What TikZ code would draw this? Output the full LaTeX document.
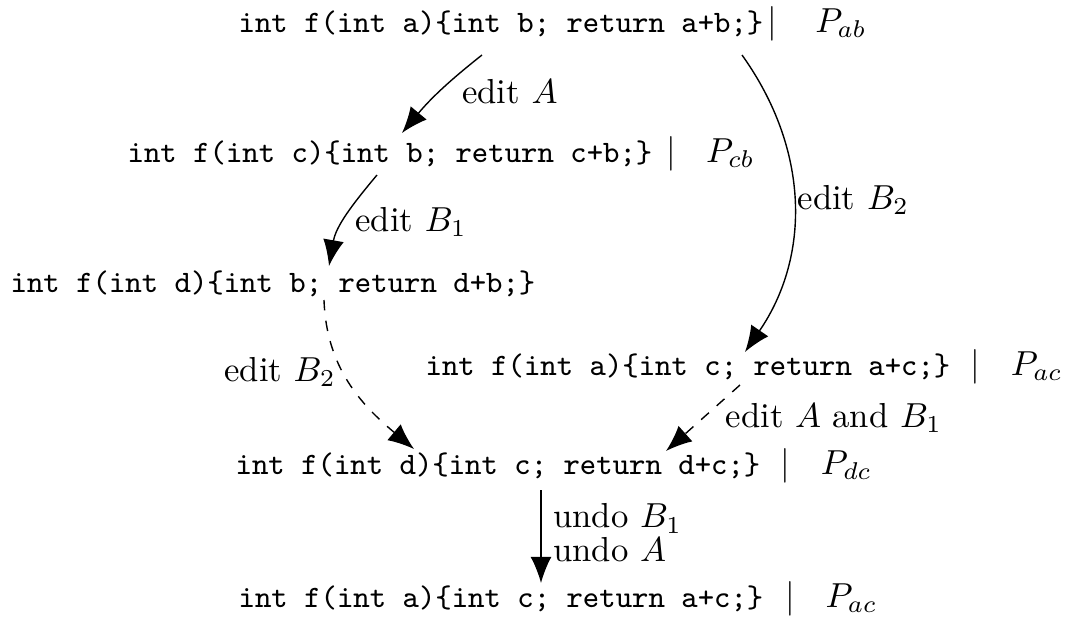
\documentclass[tikz,border=0pt]{standalone}
\usetikzlibrary{arrows.meta,calc}
\begin{document}
\begin{tikzpicture}[x=0.2882pt,y=0.2882pt,
  code/.style={inner sep=0pt,anchor=base west,font=\normalsize},
  arr/.style={-{Latex[length=7.5pt,width=6pt]},line width=0.4pt},
  lab/.style={font=\normalsize}]
\useasboundingbox (0,0) rectangle (1076,622);
\node[code] (L1) at (238,590) {{\small\ttfamily int f(int a)\{int b; return a+b;\}}\hspace{1.2pt}$|$\hspace{11pt}$P_{ab}$};
\node[code] (L2) at (127,460) {{\small\ttfamily int f(int c)\{int b; return c+b;\}}\hspace{4.2pt}$|$\hspace{8.5pt}$P_{cb}$};
\node[code] (L3) at (10,330) {{\small\ttfamily int f(int d)\{int b; return d+b;\}}};
\node[code] (L4) at (425,247) {{\small\ttfamily int f(int a)\{int c; return a+c;\}}\hspace{5.9pt}$|$\hspace{8.8pt}$P_{ac}$};
\node[code] (L5) at (235,148) {{\small\ttfamily int f(int d)\{int c; return d+c;\}}\hspace{5.8pt}$|$\hspace{8.9pt}$P_{dc}$};
\node[code] (L6) at (238,15) {{\small\ttfamily int f(int a)\{int c; return a+c;\}}\hspace{6.4pt}$|$\hspace{8.8pt}$P_{ac}$};
% edit A
\draw[arr] ($(L1.base west)+(244,-23)$) to[bend right=6]
  node[lab,midway,right,xshift=3pt] {edit $A$} ($(L2.base west)+(275,29)$);
% edit B2 (solid)
\draw[arr] ($(L1.base west)+(504,-23)$) to[bend left=35]
  node[lab,pos=0.49,right,inner sep=1pt] {edit $B_2$} ($(L4.base west)+(320,23)$);
% edit B1
\draw[arr] ($(L2.base west)+(250,-13)$) to[out=-130,in=80]
  node[lab,pos=0.56,right] {edit $B_1$} ($(L3.base west)+(319,26)$);
% edit B2 (dashed)
\draw[arr,dashed] ($(L3.base west)+(314,-8)$) to[out=-88,in=140]
  node[lab,pos=0.42,left,inner sep=2pt] {edit $B_2$} ($(L5.base west)+(179,25)$);
% edit A and B1 (dashed)
\draw[arr,dashed] ($(L4.base west)+(315,-10)$) --
  node[lab,midway,right,xshift=3pt] {edit $A$ and $B_1$} ($(L5.base west)+(431,23)$);
% undo
\draw[arr] ($(L5.base west)+(306,-16)$) --
  node[lab,midway,right,align=left,yshift=1pt] {undo $B_1$\\[-2.2pt]undo $A$} ($(L6.base west)+(303,24)$);
\end{tikzpicture}
\end{document}
